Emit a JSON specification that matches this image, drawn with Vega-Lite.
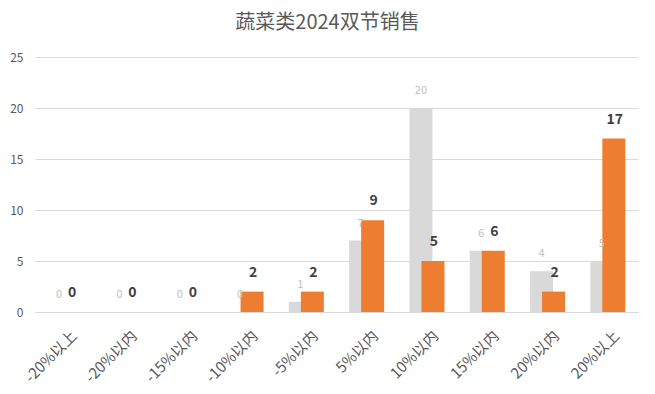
{
  "$schema": "https://vega.github.io/schema/vega-lite/v6.json",
  "width": 603,
  "height": 255,
  "autosize": {"type": "none"},
  "padding": {"left": 35, "top": 57, "right": 17, "bottom": 82},
  "background": "white",
  "title": {
    "text": "蔬菜类2024双节销售",
    "anchor": "middle",
    "offset": 18,
    "dx": -9,
    "fontSize": 20,
    "fontWeight": "normal",
    "color": "#595959",
    "font": "Noto Sans CJK SC"
  },
  "config": {
    "view": {"stroke": null},
    "font": "Noto Sans CJK SC"
  },
  "data": {
    "values": [
      {"区间": "-20%以上", "灰": 0, "橙": 0},
      {"区间": "-20%以内", "灰": 0, "橙": 0},
      {"区间": "-15%以内", "灰": 0, "橙": 0},
      {"区间": "-10%以内", "灰": 0, "橙": 2},
      {"区间": "-5%以内", "灰": 1, "橙": 2},
      {"区间": "5%以内", "灰": 7, "橙": 9},
      {"区间": "10%以内", "灰": 20, "橙": 5},
      {"区间": "15%以内", "灰": 6, "橙": 6},
      {"区间": "20%以内", "灰": 4, "橙": 2},
      {"区间": "20%以上", "灰": 5, "橙": 17}
    ]
  },
  "encoding": {
    "x": {
      "field": "区间",
      "type": "nominal",
      "sort": null,
      "scale": {"paddingInner": 0, "paddingOuter": 0},
      "axis": {
        "title": null,
        "labelAngle": -45,
        "labelColor": "#595959",
        "labelFontSize": 15,
        "labelPadding": 16,
        "labelOffset": 4,
        "domainColor": "#d9d9d9",
        "ticks": false,
        "grid": false
      }
    }
  },
  "layer": [
    {
      "mark": {"type": "bar", "width": 23, "xOffset": -6, "color": "#d9d9d9"},
      "encoding": {
        "y": {
          "field": "灰",
          "type": "quantitative",
          "scale": {"domain": [0, 25], "nice": false},
          "axis": {
            "title": null,
            "values": [0, 5, 10, 15, 20, 25],
            "domain": false,
            "ticks": false,
            "gridColor": "#d9d9d9",
            "labelColor": "#595959",
            "labelFontSize": 12,
            "labelPadding": 12
          }
        }
      }
    },
    {
      "mark": {"type": "bar", "width": 23, "xOffset": 6, "color": "#ed7d31"},
      "encoding": {
        "y": {"field": "橙", "type": "quantitative"}
      }
    },
    {
      "mark": {"type": "text", "dx": -6, "dy": -17, "baseline": "middle", "fontSize": 11, "color": "#bfbfbf"},
      "encoding": {
        "y": {"field": "灰", "type": "quantitative"},
        "text": {"field": "灰", "type": "quantitative"}
      }
    },
    {
      "mark": {"type": "text", "dx": 7, "dy": -19, "baseline": "middle", "fontSize": 14, "fontWeight": "bold", "color": "#404040"},
      "encoding": {
        "y": {"field": "橙", "type": "quantitative"},
        "text": {"field": "橙", "type": "quantitative"}
      }
    }
  ]
}
